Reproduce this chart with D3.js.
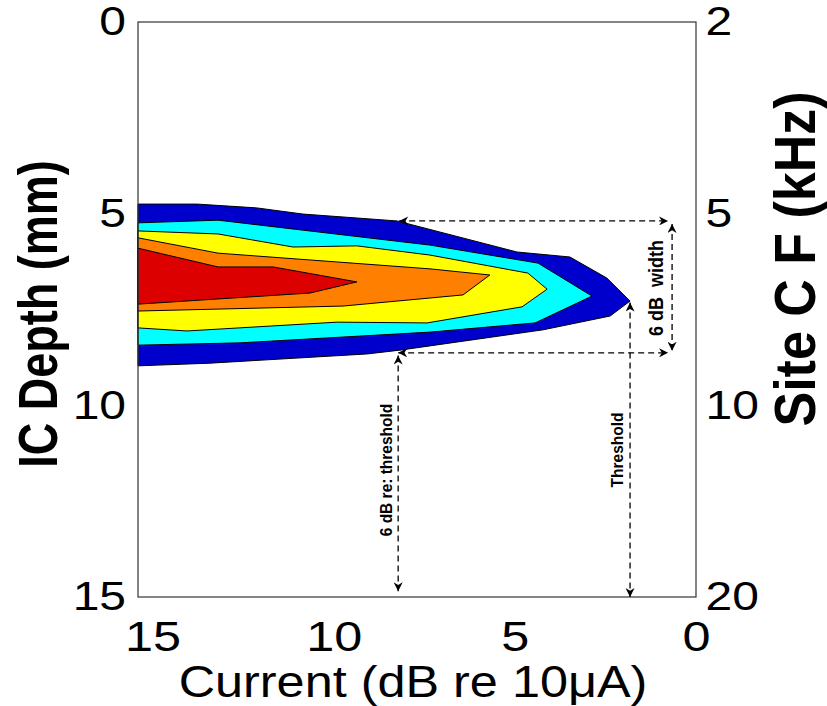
<!DOCTYPE html>
<html><head><meta charset="utf-8">
<script src="https://cdn.jsdelivr.net/npm/d3@7/dist/d3.min.js"></script>
<style>body{margin:0;background:#fff}svg{display:block}</style>
</head><body><svg id="c" width="827" height="706"></svg>
<script>
// ---------- data ----------
const xTicks = [15, 10, 5, 0];
const yTicks = [0, 5, 10, 15];
const rightTickLabels = ["2", "5", "10", "20"];
const levelNames = ["blue", "cyan", "yellow", "orange", "red"];
const levelColors = ["#0000CC", "#00FFFF", "#FFFF00", "#FF8000", "#DC0000"];
// contour outlines: [current (dB re 10uA), depth (mm)]
const contourBlue = [[15.4,4.75],[13.77,4.75],[12.12,4.85],[10.85,5.01],[8.25,5.19],[4.94,6.00],[3.48,6.13],[2.46,6.68],[1.82,7.28],[2.37,7.67],[4.22,8.03],[8.17,8.56],[9.08,8.66],[13.41,8.90],[15.4,8.97]];
const contourCyan = [[15.4,5.24],[13.19,5.17],[7.34,5.82],[4.36,6.29],[2.87,7.15],[4.44,7.85],[7.34,8.09],[12.58,8.37],[15.4,8.43]];
const contourYellow = [[15.4,5.45],[13.19,5.53],[11.12,5.87],[9.36,5.84],[7.34,6.08],[4.64,6.55],[4.11,6.97],[4.80,7.43],[7.42,7.85],[9.91,7.83],[14.05,8.06],[15.4,7.98]];
const contourOrange = [[15.4,5.63],[13.19,6.03],[7.34,6.44],[5.69,6.60],[6.43,7.12],[7.34,7.20],[9.74,7.41],[15.4,7.54]];
const contourRed = [[15.4,5.90],[13.19,6.39],[11.67,6.39],[9.36,6.78],[10.65,7.07],[15.4,7.36]];
const contours = [contourBlue, contourCyan, contourYellow, contourOrange, contourRed];
// annotation values
const thresholdCurrent = 1.82;
const thresholdTipDepth = 7.32;
const sixDbCurrent = 8.22;
const sixDbTopDepth = 8.70;
const widthTopDepth = 5.19;
const widthBottomDepth = 8.63;
const widthLineEnd = 0.77;
const widthArrowCurrent = 0.66;
const sixDbBottomDepth = 14.85;

// ---------- layout ----------
const svg = d3.select("#c");
const L = 138, R = 696, T = 22, B = 597;
const x = d3.scaleLinear().domain([15.4, 0]).range([L, R]);
const y = d3.scaleLinear().domain([0, 15]).range([T, B]);
const font = "'Liberation Sans', Arial, Helvetica, sans-serif";

// contours
const line = d3.line().x(d => x(d[0])).y(d => y(d[1])).curve(d3.curveLinearClosed);
svg.append("g").selectAll("path").data(contours).join("path")
  .attr("d", line)
  .attr("fill", (d, i) => levelColors[i])
  .attr("stroke", "#000").attr("stroke-width", 1).attr("stroke-linejoin", "round");

// frame
svg.append("rect").attr("x", L).attr("y", T).attr("width", R - L).attr("height", B - T)
  .attr("fill", "none").attr("stroke", "#333").attr("stroke-width", 1.2);

// axes
function styleAxis(g, size, sx) {
  g.select(".domain").remove();
  g.selectAll("line").remove();
  g.selectAll("text").attr("font-family", font).attr("font-size", size).attr("fill", "#000")
    .attr("transform", `scale(${sx},1)`);
}
svg.append("g").attr("transform", `translate(${L},0)`)
  .call(d3.axisLeft(y).tickValues(yTicks).tickSize(0).tickPadding(10).tickFormat(d3.format("d")))
  .call(g => styleAxis(g, 40, 1.2));
svg.append("g").attr("transform", `translate(${R},0)`)
  .call(d3.axisRight(y).tickValues(yTicks).tickSize(0).tickPadding(8).tickFormat((d, i) => rightTickLabels[i]))
  .call(g => styleAxis(g, 40, 1.2));
svg.append("g").attr("transform", `translate(0,${B})`)
  .call(d3.axisBottom(x).tickValues(xTicks).tickSize(0).tickPadding(24).tickFormat(d3.format("d")))
  .call(g => styleAxis(g, 42, 1.2));

// axis titles
svg.append("text").attr("transform", `translate(413,697) scale(1.12,1)`)
  .attr("text-anchor", "middle").attr("font-family", font).attr("font-size", 45)
  .text("Current (dB re 10\u03bcA)");
svg.append("text").attr("transform", `translate(57,314) rotate(-90) scale(1,1.25)`)
  .attr("text-anchor", "middle").attr("font-family", font).attr("font-weight", "bold").attr("font-size", 45)
  .text("IC Depth (mm)");
svg.append("text").attr("transform", `translate(815,259) rotate(-90) scale(1,1.12)`)
  .attr("text-anchor", "middle").attr("font-family", font).attr("font-weight", "bold").attr("font-size", 52)
  .text("Site C F (kHz)");

// annotations
const defs = svg.append("defs");
defs.append("marker").attr("id", "arr").attr("viewBox", "0 0 10 10").attr("refX", 10).attr("refY", 5)
  .attr("markerWidth", 12).attr("markerHeight", 9).attr("markerUnits", "userSpaceOnUse")
  .attr("orient", "auto-start-reverse")
  .append("path").attr("d", "M0,0 L10,5 L0,10 L3,5 Z").attr("fill", "#000");

const ann = svg.append("g").attr("stroke", "#000").attr("stroke-width", 1.3)
  .attr("stroke-dasharray", "6,4").attr("fill", "none");
function arrowLine(x1, y1, x2, y2) {
  ann.append("line").attr("x1", x1).attr("y1", y1).attr("x2", x2).attr("y2", y2)
    .attr("marker-start", "url(#arr)").attr("marker-end", "url(#arr)");
}
arrowLine(x(sixDbCurrent) + 1, y(widthTopDepth), x(widthLineEnd), y(widthTopDepth));
arrowLine(x(sixDbCurrent), y(widthBottomDepth), x(widthLineEnd), y(widthBottomDepth));
arrowLine(x(widthArrowCurrent), y(widthTopDepth) + 3, x(widthArrowCurrent), y(widthBottomDepth) - 2);
arrowLine(x(thresholdCurrent), y(thresholdTipDepth), x(thresholdCurrent), y(15));
arrowLine(x(sixDbCurrent), y(sixDbTopDepth), x(sixDbCurrent), y(sixDbBottomDepth));

function rotLabel(px, py, size, txt) {
  svg.append("text").attr("transform", `translate(${px},${py}) rotate(-90) scale(1,1.1)`)
    .attr("text-anchor", "middle").attr("font-family", font).attr("font-weight", "bold")
    .attr("font-size", size).style("white-space", "pre").text(txt);
}
rotLabel(663, 288, 18, "6 dB  width");
rotLabel(x(thresholdCurrent) - 7, 450, 15.5, "Threshold");
rotLabel(x(sixDbCurrent) - 6, 470, 15.5, "6 dB re: threshold");
</script>
</body></html>
